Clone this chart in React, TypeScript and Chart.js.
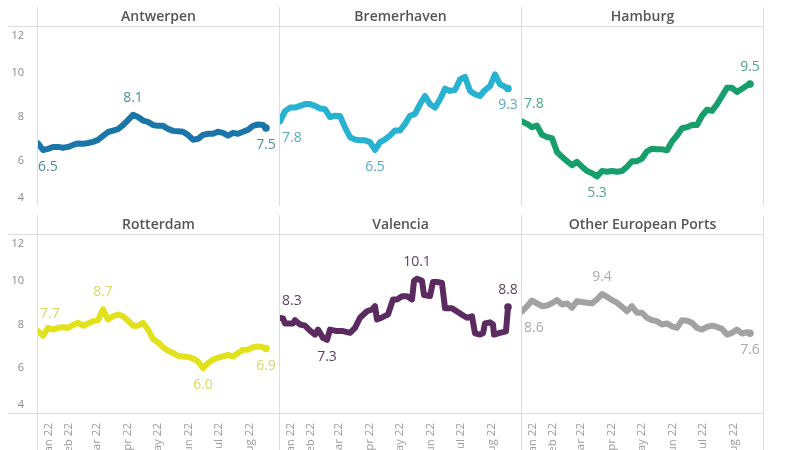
import React, { useEffect, useRef } from 'react';
import { Chart, registerables } from 'chart.js';

Chart.register(...registerables);

// Day offsets from 1 Jan 2022 (shared grid)
const days = [0, 5, 10, 15, 20, 25, 30, 35, 40, 45, 50, 55, 60, 65, 70, 75, 80, 85, 90, 95, 100, 105, 110, 115, 120, 125, 130, 135, 140, 145, 150, 155, 160, 165, 170, 175, 180, 185, 190, 195, 200, 205, 210, 215, 220, 225, 228];

const antwerpen = [6.8, 6.5, 6.55, 6.64, 6.64, 6.6, 6.64, 6.73, 6.8, 6.78, 6.82, 6.87, 6.96, 7.14, 7.32, 7.38, 7.45, 7.63, 7.86, 8.1, 8.0, 7.84, 7.78, 7.64, 7.6, 7.6, 7.46, 7.37, 7.35, 7.33, 7.19, 6.97, 7.01, 7.19, 7.24, 7.24, 7.33, 7.28, 7.15, 7.28, 7.24, 7.33, 7.42, 7.6, 7.66, 7.64, 7.5];

const bremerhaven = [7.8, 8.27, 8.43, 8.43, 8.51, 8.59, 8.59, 8.51, 8.39, 8.36, 8.0, 8.06, 8.05, 7.53, 7.08, 6.98, 6.94, 6.94, 6.86, 6.5, 6.86, 6.98, 7.16, 7.39, 7.39, 7.69, 8.06, 8.14, 8.59, 8.96, 8.59, 8.43, 8.81, 9.29, 9.19, 9.23, 9.71, 9.83, 9.19, 9.04, 8.96, 9.23, 9.41, 9.94, 9.49, 9.38, 9.3];

const hamburg = [7.8, 7.69, 7.54, 7.61, 7.19, 7.09, 7.04, 6.41, 6.19, 5.99, 5.81, 5.96, 5.74, 5.54, 5.44, 5.3, 5.54, 5.51, 5.54, 5.51, 5.54, 5.74, 5.99, 5.99, 6.11, 6.44, 6.56, 6.53, 6.53, 6.49, 6.89, 7.16, 7.49, 7.54, 7.64, 7.64, 8.06, 8.33, 8.28, 8.58, 8.96, 9.33, 9.33, 9.14, 9.29, 9.44, 9.5];

const rotterdam = [7.7, 7.49, 7.85, 7.77, 7.85, 7.88, 7.85, 7.98, 8.08, 7.95, 8.05, 8.15, 8.2, 8.7, 8.23, 8.38, 8.46, 8.38, 8.18, 7.95, 7.95, 8.08, 7.77, 7.34, 7.19, 6.97, 6.8, 6.7, 6.57, 6.54, 6.51, 6.45, 6.31, 6.0, 6.24, 6.39, 6.48, 6.54, 6.61, 6.54, 6.7, 6.85, 6.85, 6.96, 7.0, 6.96, 6.9];

const otherPorts = [8.6, 8.84, 9.1, 8.97, 8.84, 8.87, 8.97, 9.12, 8.92, 8.97, 8.77, 9.07, 9.03, 9.0, 8.97, 9.15, 9.4, 9.27, 9.12, 9.0, 8.81, 8.61, 8.84, 8.54, 8.54, 8.31, 8.2, 8.15, 8.0, 8.05, 7.92, 7.85, 8.2, 8.17, 8.08, 7.85, 7.77, 7.89, 7.95, 7.89, 7.8, 7.54, 7.62, 7.77, 7.59, 7.65, 7.6];

// Valencia has step-like jumps, so it keeps its own day list
const valenciaDays = [0, 3, 5, 13, 15, 20, 25, 30, 35, 38, 43, 47, 50, 57, 63, 70, 75, 80, 87, 92, 95, 97, 103, 108, 113, 117, 122, 127, 132, 134, 137, 142, 144, 150, 153, 157, 162, 165, 172, 177, 182, 187, 192, 195, 200, 203, 205, 210, 213, 214, 220, 226, 228];
const valencia = [8.3, 8.28, 8.05, 8.05, 8.2, 8.0, 7.95, 7.72, 7.54, 7.77, 7.39, 7.3, 7.77, 7.7, 7.7, 7.62, 7.85, 8.31, 8.61, 8.69, 8.84, 8.23, 8.35, 8.46, 9.15, 9.15, 9.3, 9.3, 9.15, 10.0, 10.1, 10.0, 9.35, 9.3, 9.95, 9.95, 9.9, 8.75, 8.75, 8.6, 8.45, 8.31, 8.38, 7.6, 7.54, 7.6, 8.05, 8.1, 8.0, 7.54, 7.62, 7.69, 8.8];

const yTicks = [4, 6, 8, 10, 12];
const monthTickDays = [11, 31, 59, 90, 120, 151, 181, 212];
const monthLabels = ['Jan 22', 'Feb 22', 'Mar 22', 'Apr 22', 'May 22', 'Jun 22', 'Jul 22', 'Aug 22'];

type Mark = { kind: 'first' | 'last' | 'min' | 'max'; pos: 'above' | 'below'; align?: 'left' | 'center'; dx?: number };
type PanelDef = {
  title: string; xs: number[]; ys: number[]; color: string; labelColor: string;
  marks: Mark[]; col: number; row: number;
};

const panels: PanelDef[] = [
  { title: 'Antwerpen', xs: days, ys: antwerpen, color: '#1a76a9', labelColor: '#4f8ca1', col: 0, row: 0,
    marks: [{ kind: 'min', pos: 'below', align: 'left', dx: -7 }, { kind: 'max', pos: 'above' }, { kind: 'last', pos: 'below' }] },
  { title: 'Bremerhaven', xs: days, ys: bremerhaven, color: '#27b2d2', labelColor: '#56abbf', col: 1, row: 0,
    marks: [{ kind: 'first', pos: 'below', align: 'left' }, { kind: 'min', pos: 'below' }, { kind: 'last', pos: 'below' }] },
  { title: 'Hamburg', xs: days, ys: hamburg, color: '#179f6b', labelColor: '#4ea784', col: 2, row: 0,
    marks: [{ kind: 'first', pos: 'above', align: 'left' }, { kind: 'min', pos: 'below' }, { kind: 'last', pos: 'above' }] },
  { title: 'Rotterdam', xs: days, ys: rotterdam, color: '#e2e21c', labelColor: '#d8d866', col: 0, row: 1,
    marks: [{ kind: 'first', pos: 'above', align: 'left' }, { kind: 'max', pos: 'above' }, { kind: 'min', pos: 'below' }, { kind: 'last', pos: 'below' }] },
  { title: 'Valencia', xs: valenciaDays, ys: valencia, color: '#5b2a60', labelColor: '#5e4460', col: 1, row: 1,
    marks: [{ kind: 'first', pos: 'above', align: 'left' }, { kind: 'min', pos: 'below' }, { kind: 'max', pos: 'above' }, { kind: 'last', pos: 'above' }] },
  { title: 'Other European Ports', xs: days, ys: otherPorts, color: '#a2a2a2', labelColor: '#ababab', col: 2, row: 1,
    marks: [{ kind: 'first', pos: 'below', align: 'left' }, { kind: 'max', pos: 'above' }, { kind: 'last', pos: 'below' }] },
];

const COL_LEFT = [0, 279, 521];
const COL_WIDTH = [279, 242, 243];
const ROW_TOP = [7, 215];
const ROW_HEIGHT = [199, 235];

function Panel({ p }: { p: PanelDef }) {
  const ref = useRef<HTMLCanvasElement | null>(null);
  useEffect(() => {
    if (!ref.current) return;
    const { col, row } = p;
    const pts = p.xs.map((x, i) => ({ x, y: p.ys[i] }));

    const framePlugin = {
      id: 'frame',
      afterDraw(chart: any) {
        const { ctx, chartArea, width, height } = chart;
        const { left, right, top, bottom } = chartArea;
        ctx.save();
        ctx.strokeStyle = '#dedede';
        ctx.lineWidth = 1;
        ctx.beginPath();
        const x0 = col === 0 ? 8 : 0;
        ctx.moveTo(x0, top - 0.5); ctx.lineTo(width, top - 0.5);
        ctx.moveTo(x0, bottom + 0.5); ctx.lineTo(width, bottom + 0.5);
        ctx.moveTo(left - 0.5, 0); ctx.lineTo(left - 0.5, height);
        if (col === 2) { ctx.moveTo(right + 0.5, 0); ctx.lineTo(right + 0.5, height); }
        ctx.stroke();
        ctx.restore();
      },
    };

    const labelPlugin = {
      id: 'pointLabels',
      afterDatasetsDraw(chart: any) {
        const { ctx } = chart;
        const meta = chart.getDatasetMeta(0);
        const vals = p.ys;
        ctx.save();
        ctx.font = '400 14px "Open Sans", sans-serif';
        ctx.fillStyle = p.labelColor;
        ctx.textBaseline = 'middle';
        p.marks.forEach((m) => {
          let i = 0;
          if (m.kind === 'first') i = 0;
          else if (m.kind === 'last') i = vals.length - 1;
          else if (m.kind === 'min') i = vals.indexOf(Math.min(...vals));
          else i = vals.indexOf(Math.max(...vals));
          const el = meta.data[i];
          const align = m.align ?? 'center';
          ctx.textAlign = align;
          const x = el.x + (align === 'left' ? 2 : 0) + (m.dx ?? 0);
          const y = el.y + (m.pos === 'above' ? -17 : 17);
          ctx.fillText(vals[i].toFixed(1), x, y);
        });
        ctx.restore();
      },
    };

    const chart = new Chart(ref.current, {
      type: 'line',
      data: {
        datasets: [{
          data: pts,
          borderColor: p.color,
          backgroundColor: p.color,
          borderWidth: 6,
          pointRadius: pts.map((_, i) => (i === pts.length - 1 ? 3.8 : 0)),
          pointBorderWidth: 0,
          pointBackgroundColor: p.color,
          borderJoinStyle: 'round',
          borderCapStyle: 'round',
          tension: 0,
          fill: false,
        }],
      },
      options: {
        animation: false,
        responsive: false,
        maintainAspectRatio: false,
        events: [],
        layout: { autoPadding: false, padding: { left: col === 0 ? 0 : 1, right: col === 2 ? 1 : 0, top: 0, bottom: 0 } },
        plugins: {
          legend: { display: false },
          tooltip: { enabled: false },
          title: {
            display: true,
            text: p.title,
            fullSize: false,
            color: '#555555',
            font: { family: '"Open Sans", sans-serif', size: 14, weight: '600', lineHeight: 1.2 },
            padding: { top: 2, bottom: 1.2 },
          },
        },
        scales: {
          x: {
            type: 'linear',
            min: 0,
            max: 241,
            display: row === 1,
            grid: { display: false },
            border: { display: false },
            afterBuildTicks: (s: any) => { s.ticks = monthTickDays.map((v) => ({ value: v })); },
            afterFit: (s: any) => {
              s.height = row === 1 ? 37 : 0;
              s.paddingLeft = 0; s.paddingRight = 0;
            },
            ticks: {
              autoSkip: false,
              minRotation: 90,
              maxRotation: 90,
              padding: 2,
              color: '#9a9a9a',
              font: { family: '"Open Sans", sans-serif', size: 11.5 },
              callback: (_v: any, idx: number) => monthLabels[idx],
            },
          },
          y: {
            min: 3.95,
            max: 12.1,
            display: col === 0,
            grid: { display: false },
            border: { display: false },
            afterBuildTicks: (s: any) => { s.ticks = yTicks.map((v) => ({ value: v })); },
            afterFit: (s: any) => {
              s.width = col === 0 ? 38 : 0;
              s.paddingTop = 0; s.paddingBottom = 0;
            },
            ticks: {
              padding: 6,
              color: '#8a8a8a',
              font: { family: '"Open Sans", sans-serif', size: 11 },
              // edge labels are nudged inside the pane, as in the source
              callback: (v: any) => {
                if (v === yTicks[yTicks.length - 1]) return ['', String(v)];
                if (v === yTicks[0]) return [String(v), ''];
                return String(v);
              },
            },
          },
        },
      },
      plugins: [framePlugin, labelPlugin],
    } as any);
    return () => chart.destroy();
  }, [p]);

  return (
    <canvas
      ref={ref}
      width={COL_WIDTH[p.col]}
      height={ROW_HEIGHT[p.row]}
      style={{
        position: 'absolute',
        left: COL_LEFT[p.col],
        top: ROW_TOP[p.row],
        width: COL_WIDTH[p.col],
        height: ROW_HEIGHT[p.row],
        display: 'block',
      }}
    />
  );
}

export default function App() {
  return (
    <div style={{ position: 'absolute', left: 0, top: 0, width: 787, height: 450, background: '#ffffff', overflow: 'hidden' }}>
      {panels.map((p) => (
        <Panel key={p.title} p={p} />
      ))}
    </div>
  );
}
